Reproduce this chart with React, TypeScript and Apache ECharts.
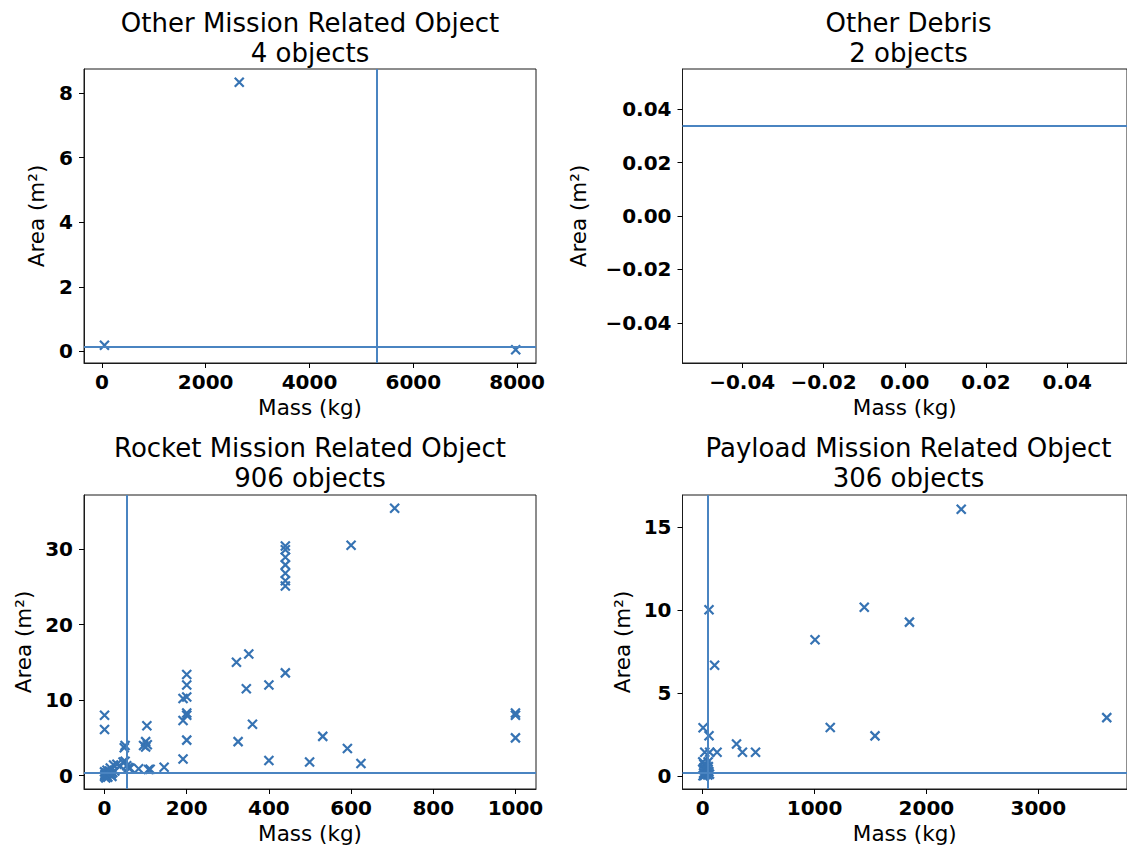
import React, { useEffect, useRef } from "react";
import * as echarts from "echarts";

// ---------- data ----------
const titles = [
  "Other Mission Related Object\n4 objects",
  "Other Debris\n2 objects",
  "Rocket Mission Related Object\n906 objects",
  "Payload Mission Related Object\n306 objects",
];

const otherMissionPts: number[][] = [
  [50, 0.19],
  [2647, 8.34],
  [7973, 0.05],
];
const otherDebrisPts: number[][] = [];
const rocketPts: number[][] = [
  [706, 35.4], [600, 30.5],
  [440, 30.4], [440, 29.9], [440, 28.9], [440, 27.9], [440, 26.8], [440, 25.8], [440, 25.1], [440, 13.6],
  [321, 15.0], [351, 16.1], [345, 11.5], [400, 12.0], [360, 6.8], [325, 4.5], [400, 2.0], [499, 1.8],
  [531, 5.2], [591, 3.6], [624, 1.6],
  [1000, 8.3], [1000, 8.0], [1000, 5.0],
  [200, 13.4], [200, 12.0], [200, 10.4], [191, 10.2], [200, 8.3], [200, 8.0], [191, 7.3], [200, 4.7], [191, 2.2],
  [103, 6.6], [100, 4.5], [95, 4.0], [104, 4.1], [100, 3.8],
  [0, 8.0], [0, 6.1],
  [50, 4.0], [48, 3.7], [50, 1.9], [45, 1.8], [38, 1.3], [30, 1.5], [22, 1.4], [14, 1.0], [54, 1.3],
  [62, 1.0], [83, 0.9], [107, 0.8], [111, 0.85], [145, 1.1], [58, 1.06],
  [0, 0.5], [2, 0.2], [5, 0.0], [8, -0.2], [10, 0.3], [12, 0.6], [15, 0.1], [18, -0.1], [20, 0.4],
  [3, -0.3], [6, 0.7], [1, 0.1], [0, -0.1], [9, 0.45], [16, 0.25], [25, 0.6], [4, 0.35],
];
const payloadPts: number[][] = [
  [2311, 16.1], [1444, 10.18], [1848, 9.28], [1004, 8.22], [56, 10.03], [106, 6.68], [1140, 2.91],
  [1540, 2.41], [3612, 3.51], [302, 1.92], [355, 1.42], [472, 1.42], [128, 1.42], [3, 2.9], [56, 2.42],
  [18, 1.42], [62, 1.42], [0, 0.84], [48, 0.84], [10, 0.7], [30, 0.6], [5, 0.4], [20, 0.35], [40, 0.3],
  [55, 0.25], [8, 0.15], [25, 0.1], [45, 0.05], [2, 0.0], [15, 0.02], [35, 0.2], [60, 0.1], [12, 0.5], [50, 0.55],
];

// reference lines: [vertical mass line, horizontal area line]
const vLines: (number | null)[] = [5287, null, 54.5, 48];
const hLines: (number | null)[] = [0.155, 0.0339, 0.32, 0.16];

const xTicks = [
  [0, 2000, 4000, 6000, 8000],
  [-0.04, -0.02, 0, 0.02, 0.04],
  [0, 200, 400, 600, 800, 1000],
  [0, 1000, 2000, 3000],
];
const yTicks = [
  [0, 2, 4, 6, 8],
  [-0.04, -0.02, 0, 0.02, 0.04],
  [0, 10, 20, 30],
  [0, 5, 10, 15],
];
const xRanges = [
  [-344, 8364],
  [-0.0547, 0.0547],
  [-50, 1050],
  [-181, 3793],
];
const yRanges = [
  [-0.36, 8.75],
  [-0.055, 0.055],
  [-1.77, 37.15],
  [-0.8, 16.96],
];

const allPts = [otherMissionPts, otherDebrisPts, rocketPts, payloadPts];

// ---------- layout ----------
const grids = [
  { left: 84, top: 69, width: 452, height: 294 },
  { left: 682.5, top: 69, width: 452, height: 294 },
  { left: 84, top: 495, width: 452, height: 294 },
  { left: 682.5, top: 495, width: 452, height: 294 },
];
const yNameGaps = [37, 93, 50, 49];

const MARK = "#3673b3";
const LINE = "#4a84c1";
const FONT = "DejaVu Sans";

function fmtTick(i: number, v: number) {
  if (i === 1) return v.toFixed(2).replace("-", "\u2212");
  return String(v);
}

export default function App() {
  const ref = useRef<HTMLDivElement>(null);
  useEffect(() => {
    document.body.style.margin = "0";
    if (!ref.current) return;
    const chart = echarts.init(ref.current, null, { renderer: "svg" });

    const gridOpts = grids.map((g) => ({
      ...g,
      show: true,
      borderColor: "#1a1a1a",
      borderWidth: 1,
      backgroundColor: "transparent",
      containLabel: false,
    }));

    const xAxes = grids.map((_, i) => ({
      type: "value",
      gridIndex: i,
      position: "bottom",
      min: xRanges[i][0],
      max: xRanges[i][1],
      name: "Mass (kg)",
      nameLocation: "middle",
      nameGap: 33,
      nameTextStyle: { fontFamily: FONT, fontSize: 21.5, color: "#000" },
      axisLine: { show: true, onZero: false, lineStyle: { color: "#1a1a1a", width: 1 } },
      splitLine: { show: false },
      axisTick: {
        show: true,
        inside: false,
        length: 5,
        lineStyle: { color: "#000", width: 1 },
        customValues: xTicks[i],
      },
      axisLabel: {
        show: true,
        margin: 9,
        fontFamily: FONT,
        fontSize: 20,
        fontWeight: "bold",
        color: "#000",
        customValues: xTicks[i],
        formatter: (v: number) => fmtTick(i, v),
      },
    }));

    const yAxes = grids.map((_, i) => ({
      type: "value",
      gridIndex: i,
      position: "left",
      min: yRanges[i][0],
      max: yRanges[i][1],
      name: "Area (m\u00B2)",
      nameLocation: "middle",
      nameGap: yNameGaps[i],
      nameRotate: 90,
      nameTextStyle: { fontFamily: FONT, fontSize: 21.5, color: "#000" },
      axisLine: { show: true, onZero: false, lineStyle: { color: "#1a1a1a", width: 1 } },
      splitLine: { show: false },
      axisTick: {
        show: true,
        inside: false,
        length: 5,
        lineStyle: { color: "#000", width: 1 },
        customValues: yTicks[i],
      },
      axisLabel: {
        show: true,
        margin: 11,
        fontFamily: FONT,
        fontSize: 20,
        fontWeight: "bold",
        color: "#000",
        customValues: yTicks[i],
        formatter: (v: number) => fmtTick(i, v),
      },
    }));

    const series = grids.map((_, i) => {
      const ml: any[] = [];
      if (vLines[i] !== null) ml.push({ xAxis: vLines[i] });
      if (hLines[i] !== null) ml.push({ yAxis: hLines[i] });
      return {
        type: "scatter",
        xAxisIndex: i,
        yAxisIndex: i,
        data: allPts[i],
        symbol: "path://M0,0L10,10M10,0L0,10",
        symbolSize: 9,
        itemStyle: { color: "rgba(0,0,0,0)", borderColor: MARK, borderWidth: 2.2, opacity: 1 },
        clip: false,
        markLine: {
          silent: true,
          precision: 6,
          symbol: ["none", "none"],
          label: { show: false },
          lineStyle: { type: "solid", color: LINE, width: 2, opacity: 1 },
          emphasis: { disabled: true },
          data: ml,
        },
      };
    });

    const graphic = grids.map((g, i) => ({
      type: "text",
      x: g.left + g.width / 2,
      y: i < 2 ? 8 : 433,
      style: {
        text: titles[i],
        font: `26px "${FONT}"`,
        fill: "#000",
        align: "center",
        verticalAlign: "top",
        lineHeight: 30,
      },
    }));

    chart.setOption({
      animation: false,
      backgroundColor: "#fff",
      grid: gridOpts,
      xAxis: xAxes,
      yAxis: yAxes,
      series,
      graphic,
    });
    return () => chart.dispose();
  }, []);
  return (
    <div
      ref={ref}
      style={{ position: "fixed", left: 0, top: 0, width: 1127, height: 851 }}
    />
  );
}
